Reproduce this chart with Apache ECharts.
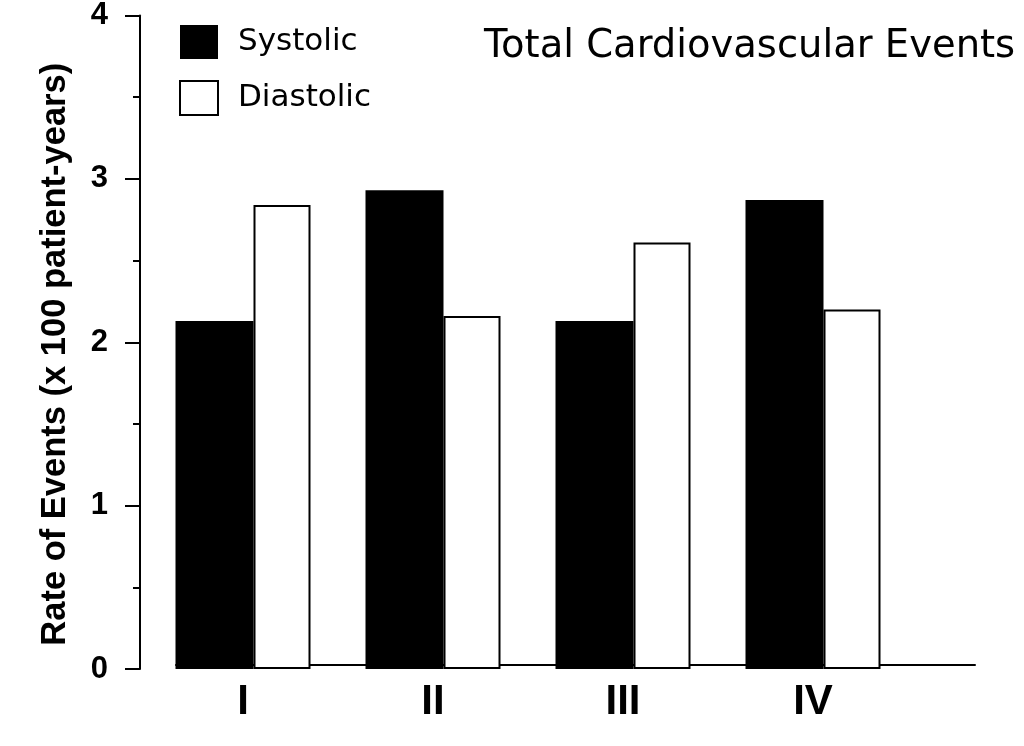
<!DOCTYPE html>
<html><head><meta charset="utf-8">
<script src="https://cdn.jsdelivr.net/npm/echarts@6/dist/echarts.min.js"></script>
<style>html,body{margin:0;padding:0;background:#fff}#c{width:1024px;height:746px}</style>
</head><body><div id="c"></div>
<script>
const categories = ['I', 'II', 'III', 'IV'];
const systolic = [2.13, 2.93, 2.13, 2.87];
const diastolic = [2.84, 2.16, 2.61, 2.20];
const yTickLabels = ['0', '1', '2', '3', '4'];
const titleText = 'Total Cardiovascular Events';
const yName = 'Rate of Events (x 100 patient-years)';

const chart = echarts.init(document.getElementById('c'), null, {renderer: 'canvas'});
const black = '#000';
chart.setOption({
  animation: false,
  backgroundColor: '#fff',
  title: {
    text: titleText, left: 479, top: 22,
    textStyle: {fontFamily: 'DejaVu Sans', fontSize: 38.5, fontWeight: 'normal', color: black}
  },
  legend: {
    orient: 'vertical', left: 174, top: 20, itemWidth: 38, itemHeight: 34, itemGap: 21,
    icon: 'rect',
    textStyle: {fontFamily: 'DejaVu Sans', fontSize: 31, color: black, padding: [0, 0, 0, 15]},
    data: ['Systolic', 'Diastolic']
  },
  grid: [
    {left: 148, right: 116, top: 12, bottom: 77},
    {left: 176, right: 49, top: 12, bottom: 81}
  ],
  xAxis: [
    {
      type: 'category', gridIndex: 0, data: categories,
      axisLine: {show: false}, axisTick: {show: false},
      axisLabel: {margin: 12, fontFamily: 'Liberation Sans', fontWeight: 'bold', fontSize: 42, color: black}
    },
    {
      type: 'value', gridIndex: 1, min: 0, max: 1,
      axisLine: {show: true, lineStyle: {color: black, width: 2}},
      axisTick: {show: false}, axisLabel: {show: false}, splitLine: {show: false}
    }
  ],
  yAxis: [
    {
      type: 'value', gridIndex: 0, min: 0, max: 4, interval: 1, offset: 8,
      name: yName, nameLocation: 'middle', nameGap: 67,
      nameTextStyle: {fontFamily: 'Liberation Sans', fontWeight: 'bold', fontSize: 34.5, color: black, padding: [0, 24, 0, 0]},
      axisLine: {show: true, lineStyle: {color: black, width: 2}},
      axisTick: {show: true, length: 15, lineStyle: {color: black, width: 2}},
      minorTick: {show: true, splitNumber: 2, length: 7, lineStyle: {color: black, width: 2}},
      splitLine: {show: false},
      axisLabel: {margin: 32, padding: [8, 0, 0, 0], fontFamily: 'Liberation Sans', fontWeight: 'bold', fontSize: 31, color: black,
        formatter: v => yTickLabels[Math.round(v)]}
    },
    {type: 'value', gridIndex: 1, show: false, min: 0, max: 1}
  ],
  series: [
    {
      type: 'bar', name: 'Systolic', xAxisIndex: 0, yAxisIndex: 0, data: systolic,
      barWidth: 78, barGap: '0%', itemStyle: {color: black}
    },
    {
      type: 'bar', name: 'Diastolic', xAxisIndex: 0, yAxisIndex: 0, data: diastolic,
      barWidth: 57, barGap: '0%', itemStyle: {color: '#fff', borderColor: black, borderWidth: 2}
    }
  ]
});
</script></body></html>
